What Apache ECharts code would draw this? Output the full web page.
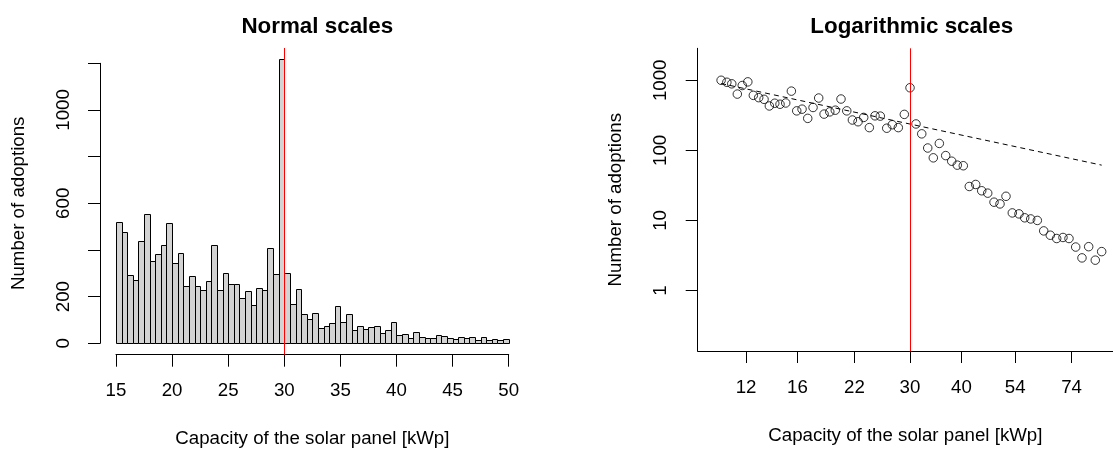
<!DOCTYPE html>
<html>
<head>
<meta charset="utf-8">
<script src="https://cdn.jsdelivr.net/npm/echarts@6/dist/echarts.min.js"></script>
<style>
  html, body { margin: 0; padding: 0; background: #fff; }
  #main { width: 1113px; height: 450px; }
</style>
</head>
<body>
<div id="main"></div>
<script>
// left panel: histogram, bins of 0.5 kWp from 15 to 50
var histBinStart = 15;
var histBinWidth = 0.5;
var histCounts = [
  521, 476, 291, 270, 440, 553, 351, 381, 420, 514,
  343, 387, 247, 290, 247, 230, 267, 421, 230, 300,
  254, 254, 196, 226, 166, 239, 230, 410, 297, 1217,
  303, 170, 231, 124, 103, 130, 67, 74, 86, 159,
  93, 127, 56, 74, 60, 69, 76, 46, 56, 93,
  37, 39, 23, 49, 27, 23, 23, 34, 30, 23,
  20, 26, 23, 26, 16, 29, 14, 19, 14, 19
];
var leftYTicks = [0, 200, 400, 600, 800, 1000, 1200];
var leftYLabels = [0, 200, 600, 1000];

// right panel: log-log scatter
var logCapacity = [
  10.44, 10.78, 11.08, 11.43, 11.75, 12.12, 12.50, 12.88, 13.27, 13.67,
  14.09, 14.51, 14.98, 15.46, 15.93, 16.41, 16.94, 17.45, 18.01, 18.56,
  19.16, 19.76, 20.40, 21.07, 21.74, 22.44, 23.16, 23.90, 24.67, 25.41,
  26.34, 27.17, 28.10, 29.06, 30.00, 31.02, 32.03, 33.12, 34.17, 35.34,
  36.62, 37.87, 39.07, 40.40, 41.78, 43.30, 44.78, 46.31, 47.97, 49.60,
  51.29, 53.13, 55.15, 56.94, 58.88, 61.10, 63.32, 65.69, 68.08, 70.52,
  72.93, 75.71, 78.42, 81.41, 84.47, 87.54
];
var logAdoptions = [
  1000, 937, 890, 635, 842, 949, 609, 565, 535, 430,
  470, 455, 474, 700, 366, 387, 286, 409, 558, 329,
  354, 374, 540, 366, 271, 256, 295, 211, 311, 308,
  207, 232, 211, 326, 782, 238, 172, 108, 78.2, 125.5,
  84.2, 70.0, 61.5, 60.3, 30.5, 32.6, 26.5, 24.5, 18.2, 17.2,
  22.1, 12.8, 12.4, 10.9, 10.5, 10.0, 7.09, 6.15, 5.52, 5.71,
  5.52, 4.17, 2.92, 4.22, 2.71, 3.59
];
var fitCapacity = [10.44, 87.54];
var fitAdoptions = [898, 61.5];
var rightXTicks = [12, 16, 22, 30, 40, 54, 74];
var rightYTicks = [1, 10, 100, 1000];

var threshold = 30;

var font = 'Liberation Sans, Arial, sans-serif';
var labelSize = 18.7;

var histData = histCounts.map(function (c, i) {
  return [histBinStart + i * histBinWidth, histBinStart + (i + 1) * histBinWidth, c];
});
var scatterData = logCapacity.map(function (x, i) { return [x, logAdoptions[i]]; });
var fitData = fitCapacity.map(function (x, i) { return [x, fitAdoptions[i]]; });

var myChart = echarts.init(document.getElementById('main'));

var axisLine = { show: true, lineStyle: { color: '#000', width: 1 } };
var axisTick = { show: true, length: 12, lineStyle: { color: '#000', width: 1 } };
var nameStyle = { color: '#000', fontFamily: font, fontSize: labelSize };
var plain = function (v) { return String(v); };

var option = {
  animation: false,
  backgroundColor: '#fff',
  title: [
    { text: 'Normal scales', left: 312.3, top: 11, textAlign: 'center',
      textStyle: { fontFamily: font, fontSize: 22.4, fontWeight: 'bold', color: '#000' } },
    { text: 'Logarithmic scales', left: 906.7, top: 11, textAlign: 'center',
      textStyle: { fontFamily: font, fontSize: 22.4, fontWeight: 'bold', color: '#000' } }
  ],
  grid: [
    // 0: left plot region (data)
    { left: 100.3, top: 48, width: 424.1, height: 306.7 },
    // 1: left x axis (15..50)
    { left: 116, top: 344.7, width: 392.7, height: 10 },
    // 2: left y axis (0..1200)
    { left: 100, top: 63.3, width: 10, height: 280 },
    // 3: right plot region
    { left: 697.7, top: 48.3, right: 0, height: 306.7 }
  ],
  xAxis: [
    { gridIndex: 0, type: 'value', min: 13.6, max: 51.4, show: false },
    { gridIndex: 1, type: 'value', min: 15, max: 50, interval: 5, position: 'bottom',
      axisLine: axisLine, axisTick: axisTick, splitLine: { show: false },
      axisLabel: { margin: 27, formatter: plain, color: '#000', fontFamily: font, fontSize: labelSize },
      name: 'Capacity of the solar panel [kWp]', nameLocation: 'middle', nameGap: 75,
      nameTextStyle: nameStyle },
    { gridIndex: 2, type: 'value', min: 0, max: 1, show: false },
    { gridIndex: 3, type: 'log', logBase: 10, min: 9.16, max: 93.26,
      axisLine: axisLine, splitLine: { show: false },
      axisTick: { show: true, length: 12, customValues: rightXTicks, lineStyle: { color: '#000', width: 1 } },
      axisLabel: { margin: 27, customValues: rightXTicks, formatter: plain, color: '#000', fontFamily: font, fontSize: labelSize },
      name: 'Capacity of the solar panel [kWp]', nameLocation: 'middle', nameGap: 75,
      nameTextStyle: nameStyle }
  ],
  yAxis: [
    { gridIndex: 0, type: 'value', min: -48.9, max: 1265.6, show: false },
    { gridIndex: 1, type: 'value', min: 0, max: 1, show: false },
    { gridIndex: 2, type: 'value', min: 0, max: 1200, position: 'left',
      axisLine: axisLine, splitLine: { show: false },
      axisTick: { show: true, length: 12, customValues: leftYTicks, lineStyle: { color: '#000', width: 1 } },
      axisLabel: { margin: 27, rotate: 90, customValues: leftYLabels, formatter: plain, color: '#000', fontFamily: font, fontSize: labelSize },
      name: 'Number of adoptions', nameLocation: 'middle', nameGap: 72,
      nameTextStyle: nameStyle },
    { gridIndex: 3, type: 'log', logBase: 10, min: 0.137, max: 2859,
      axisLine: axisLine, splitLine: { show: false },
      axisTick: { show: true, length: 12, customValues: rightYTicks, lineStyle: { color: '#000', width: 1 } },
      axisLabel: { margin: 27, rotate: 90, customValues: rightYTicks, formatter: plain, color: '#000', fontFamily: font, fontSize: labelSize },
      name: 'Number of adoptions', nameLocation: 'middle', nameGap: 72,
      nameTextStyle: nameStyle }
  ],
  series: [
    {
      type: 'custom',
      xAxisIndex: 0, yAxisIndex: 0,
      data: histData,
      silent: true,
      renderItem: function (params, api) {
        var p0 = api.coord([api.value(0), api.value(2)]);
        var p1 = api.coord([api.value(1), 0]);
        var x0 = Math.round(p0[0]) + 0.5, x1 = Math.round(p1[0]) + 0.5;
        var y0 = Math.round(p0[1]) + 0.5, y1 = Math.round(p1[1]) + 0.5;
        return {
          type: 'rect',
          shape: { x: x0, y: y0, width: x1 - x0, height: y1 - y0 },
          style: { fill: '#d3d3d3', stroke: '#000', lineWidth: 1 }
        };
      }
    },
    {
      type: 'line', xAxisIndex: 0, yAxisIndex: 0, data: [], silent: true,
      markLine: { silent: true, symbol: ['none', 'none'], label: { show: false },
        lineStyle: { color: '#ff0000', width: 1, type: 'solid' },
        data: [{ xAxis: threshold }] }
    },
    {
      type: 'line', xAxisIndex: 3, yAxisIndex: 3, data: fitData, silent: true,
      symbol: 'none',
      lineStyle: { color: '#000', width: 1, type: [5, 4] },
      markLine: { silent: true, symbol: ['none', 'none'], label: { show: false },
        lineStyle: { color: '#ff0000', width: 1, type: 'solid' },
        data: [{ xAxis: threshold }] }
    },
    {
      type: 'scatter', xAxisIndex: 3, yAxisIndex: 3, data: scatterData, silent: true,
      symbol: 'circle', symbolSize: 8.5,
      itemStyle: { color: 'rgba(0,0,0,0)', borderColor: '#000', borderWidth: 1 }
    }
  ]
};

myChart.setOption(option);
</script>
</body>
</html>
